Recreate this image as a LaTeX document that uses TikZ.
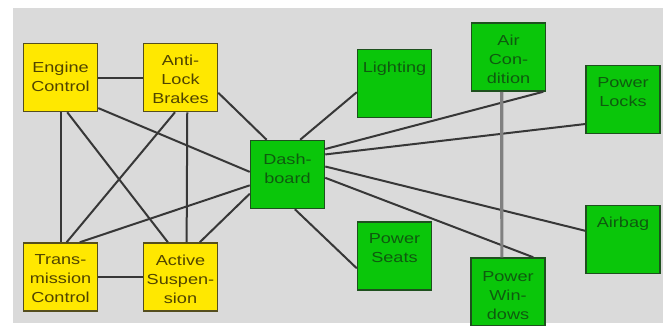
\documentclass[tikz,border=0pt]{standalone}
\usepackage{fontspec}
\setmainfont{Liberation Sans}
\usetikzlibrary{positioning}
\definecolor{panelgray}{RGB}{218,218,218}
\definecolor{ecuyellow}{RGB}{255,232,0}
\definecolor{ecuborder}{RGB}{85,78,30}
\definecolor{ecuink}{RGB}{80,68,0}
\definecolor{bodygreen}{RGB}{10,198,10}
\definecolor{bodyborder}{RGB}{30,80,30}
\definecolor{bodyink}{RGB}{15,90,15}
\definecolor{busgray}{RGB}{55,55,55}
\definecolor{linkgray}{RGB}{128,128,128}

\begin{document}
\begin{tikzpicture}[x=1pt,y=-1pt,
    ecu/.style={rectangle,draw=ecuborder,fill=ecuyellow,line width=1.5pt,minimum width=74pt,minimum height=68pt,inner sep=0pt},
    body/.style={rectangle,draw=bodyborder,fill=bodygreen,line width=1.5pt,minimum width=74pt,minimum height=68pt,inner sep=0pt},
    boxlabel/.style={font=\fontsize{14.5}{19}\selectfont,align=center,inner sep=0pt,xscale=1.25,transform shape},
    ecutext/.style={boxlabel,text=ecuink},
    bodytext/.style={boxlabel,text=bodyink},
    bus/.style={draw=busgray,line width=2pt},
    link/.style={draw=linkgray,line width=3.2pt}]
    \useasboundingbox (0,0) rectangle (669,325);
    \fill[panelgray] (13,8) rectangle (663,323);

    % control units
    \node[ecu] (eng) at (60.5,77.5) {};
    \node[ecu] (abs) at (180.5,77.5) {};
    \node[ecu] (trans) at (60.5,277) {};
    \node[ecu] (susp) at (180.5,277) {};

    % body electronics
    \node[body] (dash) at (287.5,174.5) {};
    \node[body] (light) at (394.5,83.5) {};
    \node[body] (seats) at (394.5,256) {};
    \node[body] (aircon) at (508.5,57) {};
    \node[body] (locks) at (623,99.5) {};
    \node[body] (airbag) at (623,239.5) {};
    \node[body] (windows) at (508,292) {};

    \node[ecutext,below=19pt] (engT) at (eng.north) {Engine\\Control};
    \node[ecutext,below=12pt] (absT) at (abs.north) {Anti-\\Lock\\Brakes};
    \node[ecutext,below=12.5pt] (transT) at (trans.north) {Trans-\\mission\\Control};
    \node[ecutext,below=12.5pt] (suspT) at (susp.north) {Active\\Suspen-\\sion};
    \node[bodytext,below=14.5pt] (dashT) at (dash.north) {Dash-\\board};
    \node[bodytext,below=13pt] (lightT) at (light.north) {Lighting};
    \node[bodytext,below=12pt] (seatsT) at (seats.north) {Power\\Seats};
    \node[bodytext,below=13pt] (airconT) at (aircon.north) {Air\\Con-\\dition};
    \node[bodytext,below=12.5pt] (locksT) at (locks.north) {Power\\Locks};
    \node[bodytext,below=12pt] (airbagT) at (airbag.north) {Airbag};
    \node[bodytext,below=14.5pt] (windowsT) at (windows.north) {Power\\Win-\\dows};

    \draw[bus] (eng) to (abs);
    \draw[bus] (eng) to (trans);
    \draw[bus] (eng.-79) to (susp.110);
    \draw[bus] (eng.-39) to (dash.176);
    \draw[bus] (abs.-99) to (trans.80);
    \draw[bus] (abs.-79) to (susp.80);
    \draw[bus] (abs.-22) to (dash.121);
    \draw[bus] (trans) to (susp);
    \draw[bus] (trans.61) to (dash.196);
    \draw[bus] (susp.61) to (dash.207);

    \draw[bus] (dash.70) to (light.193);
    \draw[bus] (dash.34) to (aircon.-45);
    \draw[bus] (dash.28) to (locks.213);
    \draw[bus] (dash.12) to (airbag.167);
    \draw[bus] (dash.-5) to (windows.54);
    \draw[bus] (dash.-78) to (seats.198);
    \draw[link] (aircon.-101) to (windows.100);
\end{tikzpicture}
\end{document}
